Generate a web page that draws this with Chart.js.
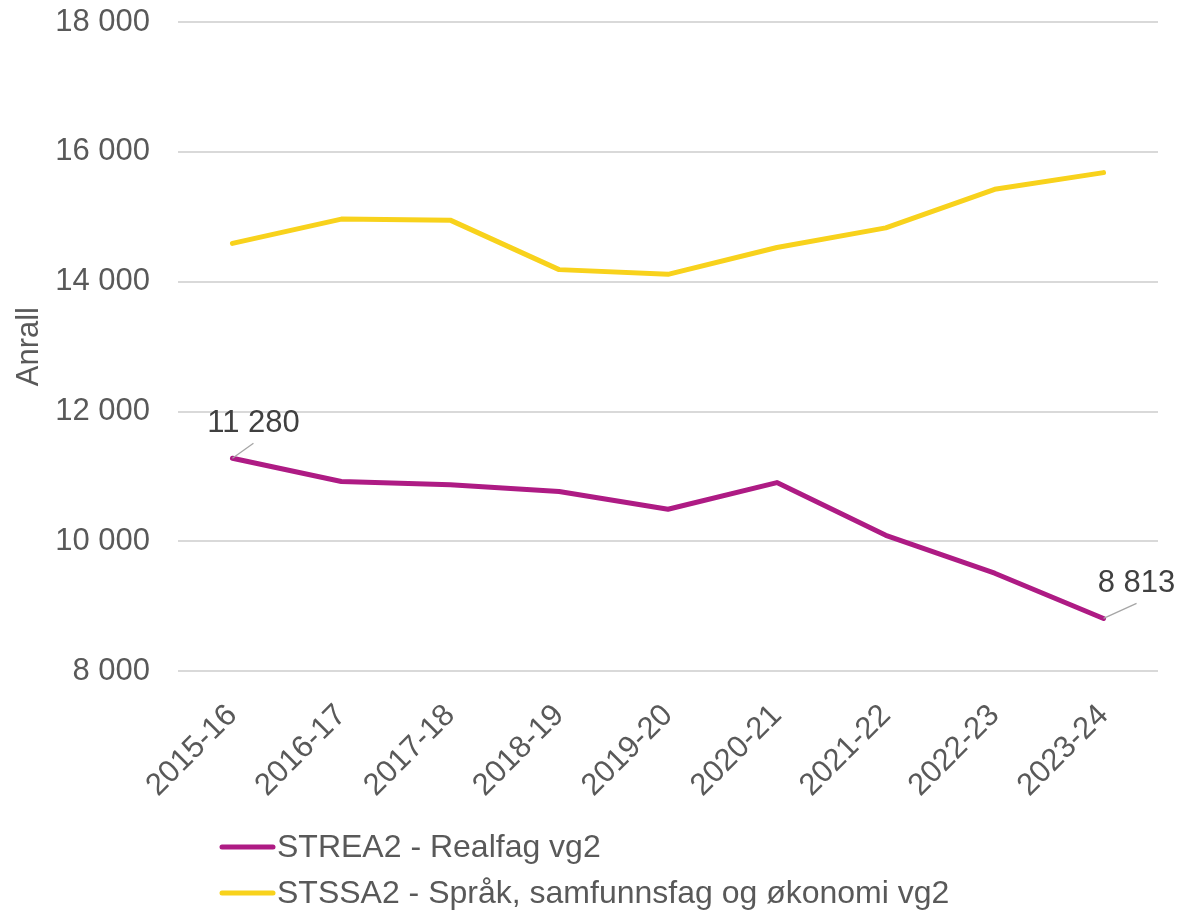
<!DOCTYPE html>
<html>
<head>
<meta charset="utf-8">
<script src="https://cdn.jsdelivr.net/npm/chart.js@4"></script>
<style>
html,body{margin:0;padding:0;background:#fff;}
#wrap{position:relative;width:1183px;height:917px;}
</style>
</head>
<body>
<div id="wrap"><canvas id="c" width="1183" height="917"></canvas></div>
<script>
const categories = ['2015-16','2016-17','2017-18','2018-19','2019-20','2020-21','2021-22','2022-23','2023-24'];
const realfag = [11280, 10923, 10871, 10768, 10495, 10906, 10093, 9510, 8813];
const spraak = [14590, 14964, 14948, 14186, 14113, 14526, 14829, 15423, 15680];
const seriesNames = ['STREA2 - Realfag vg2', 'STSSA2 - Språk, samfunnsfag og økonomi vg2'];
const yTicks = [8000, 10000, 12000, 14000, 16000, 18000];
const yTitle = 'Anrall';
const labelledPoints = [[0, 0], [0, 8]]; // [dataset, index]

const FONT = '"Liberation Sans", Arial, sans-serif';
const fmt = v => String(v).replace(/\B(?=(\d{3})+(?!\d))/g, ' ');

const annotate = {
  id: 'annotate',
  afterDatasetsDraw(chart) {
    const ctx = chart.ctx;
    ctx.save();
    labelledPoints.forEach(([d, i]) => {
      const meta = chart.getDatasetMeta(d);
      const p = meta.data[i];
      const v = chart.data.datasets[d].data[i];
      ctx.strokeStyle = '#a6a6a6';
      ctx.lineWidth = 1.3;
      ctx.beginPath();
      ctx.font = '31px ' + FONT;
      ctx.fillStyle = '#404040';
      ctx.textBaseline = 'alphabetic';
      ctx.textAlign = 'center';
      const dx = i === 0 ? 21 : 33;
      ctx.moveTo(p.x, p.y);
      ctx.lineTo(p.x + dx, p.y - 15);
      ctx.stroke();
      ctx.fillText(fmt(v), p.x + dx, p.y - 26);
    });
    ctx.restore();
  }
};

const legendPlugin = {
  id: 'customLegend',
  afterDraw(chart) {
    const ctx = chart.ctx;
    ctx.save();
    ctx.font = '32px ' + FONT;
    ctx.textBaseline = 'middle';
    ctx.textAlign = 'left';
    chart.data.datasets.forEach((ds, k) => {
      const y = 847 + k * 46;
      ctx.strokeStyle = ds.borderColor;
      ctx.lineWidth = 5;
      ctx.lineCap = 'round';
      ctx.beginPath();
      ctx.moveTo(222, y);
      ctx.lineTo(273, y);
      ctx.stroke();
      ctx.fillStyle = '#595959';
      ctx.fillText(ds.label, 277, y + 1);
    });
    ctx.restore();
  }
};

new Chart(document.getElementById('c'), {
  type: 'line',
  data: {
    labels: categories,
    datasets: [
      { label: seriesNames[0], data: realfag, borderColor: '#AE1B84', backgroundColor: '#AE1B84', borderWidth: 5, pointRadius: 0, tension: 0, borderCapStyle: 'round', borderJoinStyle: 'round' },
      { label: seriesNames[1], data: spraak, borderColor: '#F8D21C', backgroundColor: '#F8D21C', borderWidth: 5, pointRadius: 0, tension: 0, borderCapStyle: 'round', borderJoinStyle: 'round' }
    ]
  },
  options: {
    responsive: false,
    animation: false,
    devicePixelRatio: 1,
    layout: { padding: { left: 8, right: 25, top: 0, bottom: 95 } },
    plugins: { legend: { display: false }, tooltip: { enabled: false } },
    scales: {
      x: {
        offset: true,
        grid: { display: false },
        border: { display: false },
        ticks: { color: '#595959', font: { family: FONT, size: 31 }, maxRotation: 45, minRotation: 45, padding: 18 }
      },
      y: {
        min: 8000, max: 18000,
        afterBuildTicks(axis) { axis.ticks = yTicks.map(v => ({ value: v })); },
        afterFit(axis) { axis.width = 170; axis.paddingTop = 22; axis.paddingBottom = 0; },
        grid: { color: '#d9d9d9', lineWidth: 2, drawTicks: false },
        border: { display: false },
        ticks: { color: '#595959', font: { family: FONT, size: 31 }, padding: 28, callback: v => fmt(v) },
        title: { display: true, text: yTitle, color: '#595959', font: { family: FONT, size: 31 }, padding: { top: 3, bottom: 4 } }
      }
    }
  },
  plugins: [annotate, legendPlugin]
});
</script>
</body>
</html>
